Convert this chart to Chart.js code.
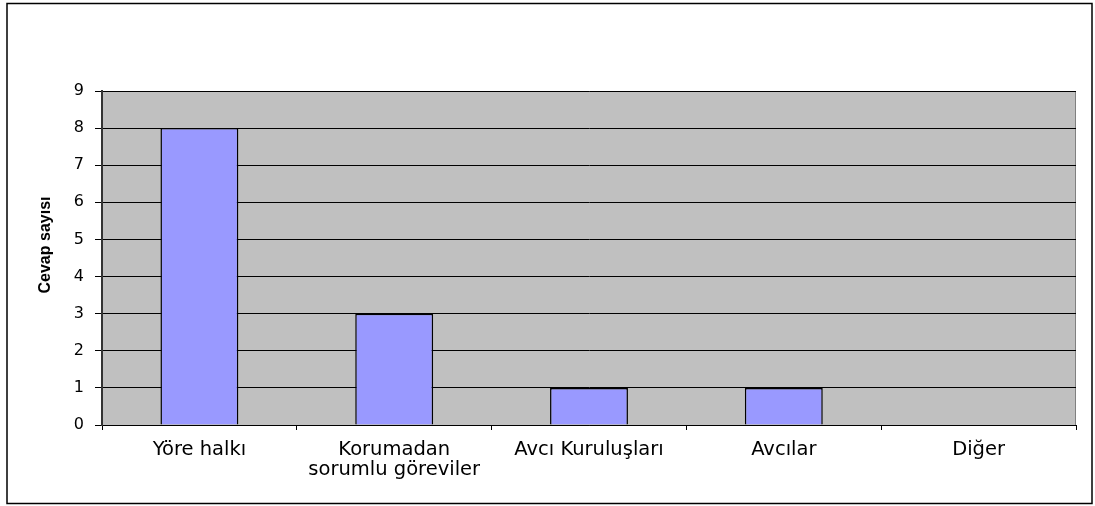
<!DOCTYPE html>
<html>
<head>
<meta charset="utf-8">
<script src="https://cdn.jsdelivr.net/npm/chart.js@4/dist/chart.umd.min.js"></script>
<style>
  html, body { margin: 0; padding: 0; background: #fff; }
  #wrap { width: 1095px; height: 506px; }
</style>
</head>
<body>
<div id="wrap"><canvas id="chart-main" width="1095" height="506"></canvas></div>
<script>
// Données du graphique
const categories = ['Yöre halkı', ['Korumadan', 'sorumlu göreviler'], 'Avcı Kuruluşları', 'Avcılar', 'Diğer'];
const cevapSayisi = [8, 3, 1, 1, 0];
const yTicks = [0, 1, 2, 3, 4, 5, 6, 7, 8, 9];
const yTitle = 'Cevap sayısı';

const FONT = '"DejaVu Sans", Verdana, sans-serif';
const FONT_TITLE = '"Liberation Sans", Arial, sans-serif';

// Fond gris de la zone de tracé, cadre extérieur et titre de l'axe Y
const frame = {
  id: 'frame',
  beforeDraw(chart) {
    const { ctx, chartArea: a } = chart;
    ctx.save();
    ctx.fillStyle = '#fff';
    ctx.fillRect(0, 0, chart.width, chart.height);
    ctx.fillStyle = '#c0c0c0';
    ctx.fillRect(a.left, a.top, a.right - a.left, a.bottom - a.top);
    ctx.strokeStyle = '#808080';
    ctx.lineWidth = 1;
    ctx.beginPath();
    ctx.moveTo(a.left, a.top + 0.5);
    ctx.lineTo(a.right - 0.5, a.top + 0.5);
    ctx.lineTo(a.right - 0.5, a.bottom);
    ctx.stroke();
    ctx.strokeStyle = '#000';
    ctx.lineWidth = 1.5;
    ctx.strokeRect(7, 3.5, 1085, 500);
    ctx.restore();
  },
  afterDraw(chart) {
    const { ctx } = chart;
    ctx.save();
    ctx.translate(46, 245);
    ctx.rotate(-Math.PI / 2);
    ctx.font = 'bold 16px ' + FONT_TITLE;
    ctx.fillStyle = '#000';
    ctx.textAlign = 'center';
    ctx.textBaseline = 'middle';
    ctx.fillText(yTitle, 0, 0);
    ctx.restore();
  }
};

new Chart(document.getElementById('chart-main').getContext('2d'), {
  type: 'bar',
  data: {
    labels: categories,
    datasets: [{
      label: yTitle,
      data: cevapSayisi,
      backgroundColor: '#9999ff',
      borderColor: '#000',
      borderWidth: 1.5,
      barPercentage: 0.4,
      categoryPercentage: 1
    }]
  },
  options: {
    responsive: false,
    animation: false,
    layout: { padding: { top: 91, right: 19, left: 0, bottom: 0 } },
    scales: {
      x: {
        afterFit(axis) { axis.height = 81; },
        grid: {
          offset: true,
          drawOnChartArea: false,
          color: '#000',
          tickLength: 5
        },
        border: { color: '#000', width: 1 },
        ticks: {
          color: '#000',
          font: { family: FONT, size: 19.5, lineHeight: 1.03 },
          padding: 10,
          maxRotation: 0,
          autoSkip: false
        }
      },
      y: {
        min: 0,
        max: 9,
        afterFit(axis) { axis.width = 102; },
        afterBuildTicks(axis) { axis.ticks = yTicks.map(v => ({ value: v })); },
        grid: { color: '#000', lineWidth: 1, tickLength: 7 },
        border: { color: '#333', width: 2 },
        ticks: {
          color: '#000',
          font: { family: FONT, size: 16 },
          padding: 11
        }
      }
    },
    plugins: {
      legend: { display: false },
      tooltip: { enabled: false }
    }
  },
  plugins: [frame]
});
</script>
</body>
</html>
